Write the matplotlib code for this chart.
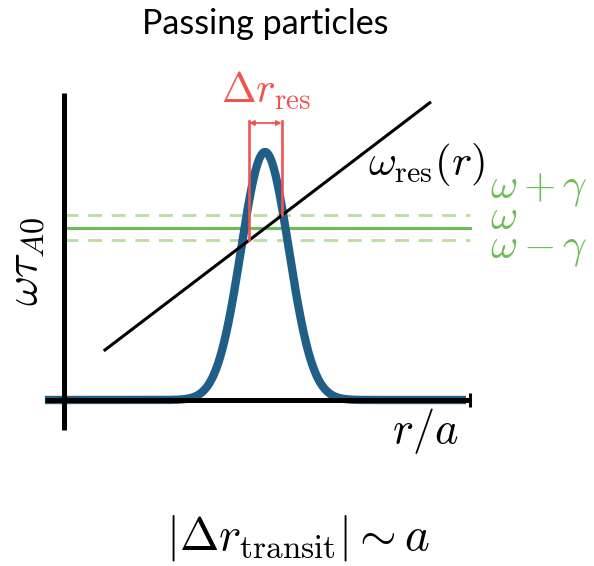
import numpy as np
import matplotlib
matplotlib.use("Agg")
import matplotlib.pyplot as plt

plt.rcParams['mathtext.fontset'] = 'cm'

# Mode profile (Gaussian in r/a)
r_center = 0.495
r_sigma = 0.059
amplitude = 1.0

# Mode frequency and growth rate (normalised)
omega = 0.694
gamma = 0.05

# Resonance line omega_res(r) = slope * r + intercept, drawn between r_line
r_line = [0.101, 0.901]
res_slope = 1.246
res_intercept = 0.076

# Axis extents
r_axis = [-0.047, 1.0]
w_axis = [-0.121, 1.238]

title = "Passing particles"
xlabel = r"$r/a$"
ylabel = r"$\omega\tau_{A0}$"
res_label = r"$\omega_{\rm res}(r)$"
delta_label = r"$\Delta r_{\rm res}$"
bottom_label = r"$|\Delta r_{\rm transit}| \sim a$"
green_labels = [r"$\omega+\gamma$", r"$\omega$", r"$\omega-\gamma$"]

blue = "#1f5e87"
green = "#6cbd55"
green_light = "#b9dca0"
red = "#f0544f"

fig = plt.figure(figsize=(5.94, 5.66), dpi=100)
ax = fig.add_axes([0, 0, 1, 1])
ax.set_xlim(-64 / 406, (594 - 64) / 406)
ax.set_ylim(-166 / 248, 400 / 248)
ax.axis("off")

# Gaussian mode
r = np.linspace(r_axis[0], 0.99, 600)
prof = amplitude * np.exp(-(r - r_center) ** 2 / (2 * r_sigma ** 2))
ax.plot(r, prof, color=blue, lw=6, solid_capstyle="butt", zorder=2)

# Axes
ax.plot(r_axis, [0, 0], color="black", lw=3.6, solid_capstyle="butt", zorder=3)
ax.plot([0, 0], w_axis, color="black", lw=3.6, solid_capstyle="butt", zorder=3)
ax.plot([r_axis[1], r_axis[1]], [-0.03, 0.03], color="black", lw=2.2,
        solid_capstyle="butt", zorder=3)

# Frequency lines
ax.plot([0, r_axis[1]], [omega, omega], color=green, lw=2.2, zorder=1)
for s in (1, -1):
    ax.plot([0, r_axis[1]], [omega + s * gamma] * 2, color=green_light, lw=2.0,
            dashes=(5, 3.5), zorder=1)

# Resonance line
rl = np.array(r_line)
ax.plot(rl, res_slope * rl + res_intercept, color="black", lw=2.2, zorder=4)

# Resonance width bracket
r_lo = (omega - gamma - res_intercept) / res_slope
r_hi = (omega + gamma - res_intercept) / res_slope
top = 1.125
ax.plot([r_lo, r_lo], [omega - gamma, top], color=red, lw=1.9, zorder=5)
ax.plot([r_hi, r_hi], [omega + gamma, top], color=red, lw=1.9, zorder=5)
ax.annotate("", xy=(r_lo, top - 0.008), xytext=(r_hi, top - 0.008),
            arrowprops=dict(arrowstyle="<|-|>", color=red, lw=1.3,
                            mutation_scale=7, shrinkA=0, shrinkB=0), zorder=5)
ax.text(0.497, 1.198, delta_label, color=red, fontsize=30,
        ha="center", va="baseline")

# Labels
ax.text(0.749, 0.907, res_label, fontsize=31, ha="left", va="baseline")
ax.text(1.049, 0.573, "\n".join(green_labels), color=green, fontsize=30,
        ha="left", va="baseline", multialignment="left", linespacing=0.60)
ax.text(-0.098, 0.56, ylabel, fontsize=33, rotation=90, ha="center",
        va="center")
ax.text(0.889, -0.173, xlabel, fontsize=32, ha="center", va="baseline")

fig.text(265 / 594, 1 - 24 / 566, title, fontsize=24.5, ha="center",
         va="center", family=["Lato", "DejaVu Sans"])
fig.text(298 / 594, 1 - 538 / 566, bottom_label, fontsize=34, ha="center",
         va="center")

fig.savefig("out.png", dpi=100)
